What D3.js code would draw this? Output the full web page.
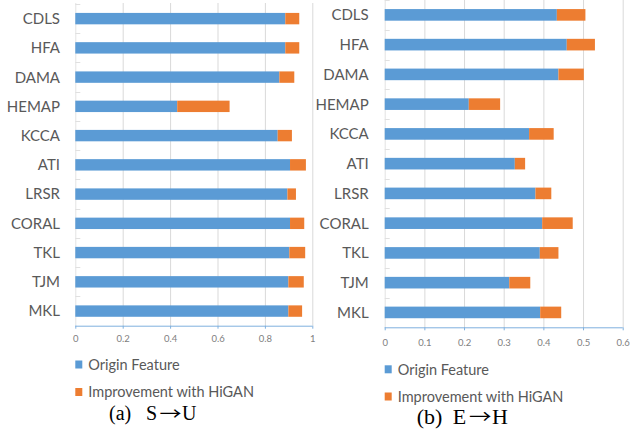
<!DOCTYPE html>
<html><head><meta charset="utf-8">
<script src="https://cdn.jsdelivr.net/npm/d3@7"></script>
<style>body{margin:0;background:#fff;} svg{display:block;}</style>
</head><body>
<svg id="c" width="634" height="432"></svg>
<script>
const categories = ["CDLS","HFA","DAMA","HEMAP","KCCA","ATI","LRSR","CORAL","TKL","TJM","MKL"];
const seriesNames = ["Origin Feature","Improvement with HiGAN"];
// (a) S→U
const originSU = [0.886,0.886,0.861,0.430,0.854,0.906,0.895,0.906,0.903,0.899,0.899];
const improveSU = [0.059,0.059,0.063,0.221,0.060,0.067,0.036,0.060,0.067,0.065,0.058];
const ticksSU = [0,0.2,0.4,0.6,0.8,1];
// (b) E→H
const originEH = [0.434,0.459,0.438,0.212,0.364,0.328,0.380,0.397,0.391,0.314,0.392];
const improveEH = [0.072,0.071,0.064,0.079,0.062,0.026,0.040,0.077,0.047,0.053,0.053];
const ticksEH = [0,0.1,0.2,0.3,0.4,0.5,0.6];
const captions = [["(a)","S","\u2192","U"],["(b)","E","\u2192","H"]];

const colors = ["#5b9bd5","#ed7d31"];
const svg = d3.select("#c");
const labelFont = "Lato, 'Open Sans', sans-serif";

function panel(o){
  const g = svg.append("g");
  const x = d3.scaleLinear().domain([0, o.max]).range([o.x0, o.x1]);
  const y = d3.scaleBand().domain(categories).range([o.y0, o.y1]).paddingInner(0.61).paddingOuter(0.305);
  // gridlines
  g.selectAll("line.grid").data(o.ticks.slice(1)).join("line")
    .attr("x1", d=>x(d)+0.5).attr("x2", d=>x(d)+0.5)
    .attr("y1", o.gTop).attr("y2", o.y1)
    .attr("stroke","#d9d9d9").attr("stroke-width",1);
  // vertical axis line + inner ticks
  g.append("line").attr("x1",o.x0+0.5).attr("x2",o.x0+0.5).attr("y1",o.gTop).attr("y2",o.y1)
    .attr("stroke","#e3e3e3");
  const bounds = d3.range(categories.length).map(i=>o.y0 + i*(o.y1-o.y0)/categories.length);
  g.selectAll("line.vt").data(bounds).join("line")
    .attr("x1",o.x0).attr("x2",o.x0+5).attr("y1",d=>Math.round(d)+0.5).attr("y2",d=>Math.round(d)+0.5)
    .attr("stroke","#e0e0e0");
  // bars
  const stackData = categories.map((c,i)=>({cat:c, a:o.origin[i], b:o.improve[i]}));
  g.selectAll("rect.o").data(stackData).join("rect")
    .attr("x", x(0)).attr("y", d=>y(d.cat)).attr("height", y.bandwidth())
    .attr("width", d=>x(d.a)-x(0)).attr("fill", colors[0]);
  g.selectAll("rect.i").data(stackData).join("rect")
    .attr("x", d=>x(d.a)).attr("y", d=>y(d.cat)).attr("height", y.bandwidth())
    .attr("width", d=>x(d.a+d.b)-x(d.a)).attr("fill", colors[1]);
  // category labels
  g.selectAll("text.cat").data(categories).join("text")
    .attr("x", o.labelX).attr("y", d=>y(d)+y.bandwidth()/2)
    .attr("dy","0.36em").attr("text-anchor","end")
    .attr("font-family", labelFont).attr("font-size", 15).attr("fill","#595959")
    .text(d=>d);
  // bottom axis
  const ax = g.append("g").attr("transform",`translate(0,${o.y1})`)
    .call(d3.axisBottom(x).tickValues(o.ticks).tickSize(3).tickFormat(d3.format("")));
  ax.select(".domain").attr("stroke","#7fb0de").attr("d", `M${o.x0},0.5H${o.x1}`);
  ax.selectAll(".tick line").attr("stroke","#7fb0de");
  ax.selectAll(".tick text").attr("y", o.tickY).attr("dy",0)
    .attr("font-family", labelFont).attr("font-size", 9.5).attr("fill","#808080");
  // legend
  seriesNames.forEach((s,i)=>{
    g.append("rect").attr("x", o.x0).attr("y", o.legY[i]-4).attr("width",7).attr("height",8).attr("fill",colors[i]);
    g.append("text").attr("x", o.x0+13).attr("y", o.legY[i]).attr("dy","0.36em")
      .attr("font-family", labelFont).attr("font-size", 14.5).attr("fill","#595959").text(s);
  });
  // caption
  const serif = "'Liberation Serif','Times New Roman',serif";
  const t = g.append("text").attr("y", o.capY)
    .attr("font-family", serif).attr("font-size", o.capSize).attr("fill","#000");
  t.append("tspan").attr("x", o.capX[0]).text(o.caption[0]);
  t.append("tspan").attr("x", o.capX[1]).text(o.caption[1]);
  t.append("tspan").attr("x", o.capX[3]).text(o.caption[3]);
  const arrow = g.append("text").attr("x",0).attr("y",0)
    .attr("font-family", "'Noto Sans CJK SC', 'DejaVu Sans', sans-serif")
    .attr("font-size", o.capSize).attr("fill","#000")
    .text(o.caption[2]);
  const bb = arrow.node().getBBox();
  const want = o.capX[3] - o.capX[2] - 1;
  const sx = bb.width > 0 ? want / bb.width : 1;
  arrow.attr("transform", `translate(${o.capX[2] - bb.x*sx + 0.5},${o.capY}) scale(${sx},0.88)`);
}

panel({max:1, ticks:ticksSU, origin:originSU, improve:improveSU,
  x0:75.3, x1:312.3, y0:4, y1:325.7, gTop:3, labelX:60,
  tickY:16, legY:[364.5,392], capY:420, capSize:20, capX:[109,146,159,182], caption:captions[0]});
panel({max:0.6, ticks:ticksEH, origin:originEH, improve:improveEH,
  x0:384.7, x1:622.7, y0:0, y1:327.3, gTop:0, labelX:368.7,
  tickY:19, legY:[369.3,396.5], capY:424, capSize:22, capX:[416.7,452.7,468.5,492], caption:captions[1]});
</script>
</body></html>
